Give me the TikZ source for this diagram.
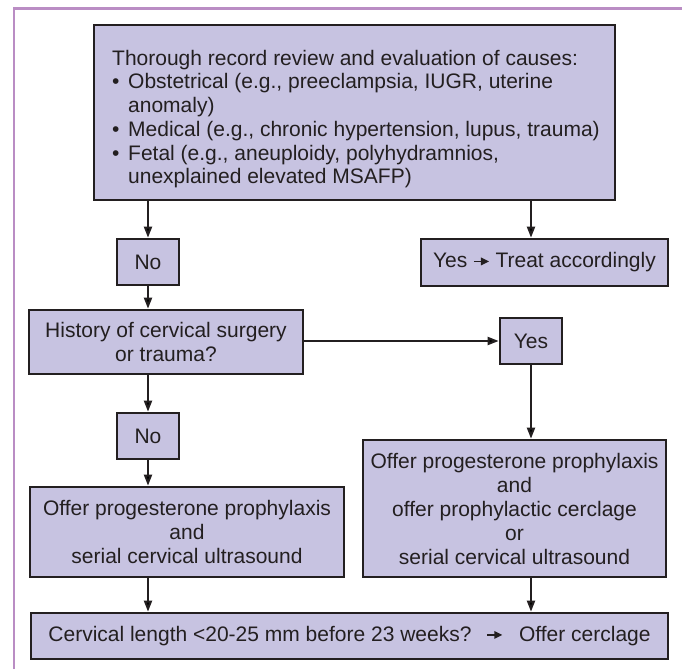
\documentclass[tikz,border=0pt]{standalone}
\usepackage{fontspec}
\setmainfont{Liberation Sans}
\usetikzlibrary{arrows.meta}

\definecolor{boxfill}{RGB}{199,195,225}
\definecolor{ink}{RGB}{35,31,32}
\definecolor{frameline}{RGB}{186,141,196}

% small solid arrow used inside the box texts
\newcommand{\solidarrow}{\tikz[baseline=0pt]\draw[ink,line width=1.5pt,-{Triangle[length=8pt,width=7.5pt]}] (0pt,6.5pt) -- (15pt,6.5pt);}

\begin{document}
\begin{tikzpicture}[x=1pt,y=-1pt,
  box/.style={draw=ink, fill=boxfill, line width=2.6pt, inner sep=0pt,
              align=center, text=ink, font=\fontsize{21}{24}\selectfont},
  listtext/.style={anchor=north west, inner sep=0pt, align=left, text=ink,
              font=\fontsize{21}{23.7}\selectfont},
  flow/.style={draw=ink, line width=2pt, -{Triangle[length=11pt,width=8pt]}},
  ]
\useasboundingbox (0,0) rectangle (682,669);

% frame lines along the top and left edge
\draw[frameline, line width=2.2pt, line join=miter] (14,669) -- (14,8.5) -- (682,8.5);

% boxes
\node[box, minimum width=521pt, minimum height=175pt] (causes) at (354.5,112.5) {};
\node[listtext] (causeslist) at (112,49.8)
  {Thorough record review and evaluation of causes:\\
   \makebox[16pt][l]{\textbullet}Obstetrical (e.g., preeclampsia, IUGR, uterine\\
   \hspace*{16pt}anomaly)\\
   \makebox[16pt][l]{\textbullet}Medical (e.g., chronic hypertension, lupus, trauma)\\
   \makebox[16pt][l]{\textbullet}Fetal (e.g., aneuploidy, polyhydramnios,\\
   \hspace*{16pt}unexplained elevated MSAFP)};

\node[box, minimum width=62pt, minimum height=46pt] (no1) at (148,262) {No};
\node[box, minimum width=247pt, minimum height=47pt] (yestreat) at (544.5,262.5)
  {Yes~\solidarrow~Treat accordingly};
\node[box, minimum width=274pt, minimum height=64pt] (history) at (166,342)
  {History of cervical surgery\\or trauma?};
\node[box, minimum width=62pt, minimum height=46pt] (yes) at (531,341) {Yes};
\node[box, minimum width=62pt, minimum height=46pt] (no2) at (148,436) {No};
\node[box, minimum width=314pt, minimum height=90pt] (leftoffer) at (187,532)
  {Offer progesterone prophylaxis\\and\\serial cervical ultrasound};
\node[box, minimum width=303pt, minimum height=137pt] (rightoffer) at (514.5,508.5)
  {Offer progesterone prophylaxis\\and\\offer prophylactic cerclage\\or\\serial cervical ultrasound};
\node[box, minimum width=637pt, minimum height=46pt] (cervix) at (349.5,636)
  {Cervical length <20-25 mm before 23 weeks?\hspace{15pt}\solidarrow\hspace{16pt}Offer cerclage};

% connectors
\draw[flow] (causes.south -| no1) -- (no1.north);
\draw[flow] (causes.south -| yes) -- (yestreat.north -| yes);
\draw[flow] (no1.south) -- (history.north -| no1);
\draw[flow] (yes.west -| history.east) -- (yes.west);
\draw[flow] (history.south -| no2) -- (no2.north);
\draw[flow] (yes.south) -- (rightoffer.north -| yes);
\draw[flow] (no2.south) -- (leftoffer.north -| no2);
\draw[flow] (leftoffer.south -| no2) -- (cervix.north -| no2);
\draw[flow] (rightoffer.south -| yes) -- (cervix.north -| yes);
\end{tikzpicture}
\end{document}
